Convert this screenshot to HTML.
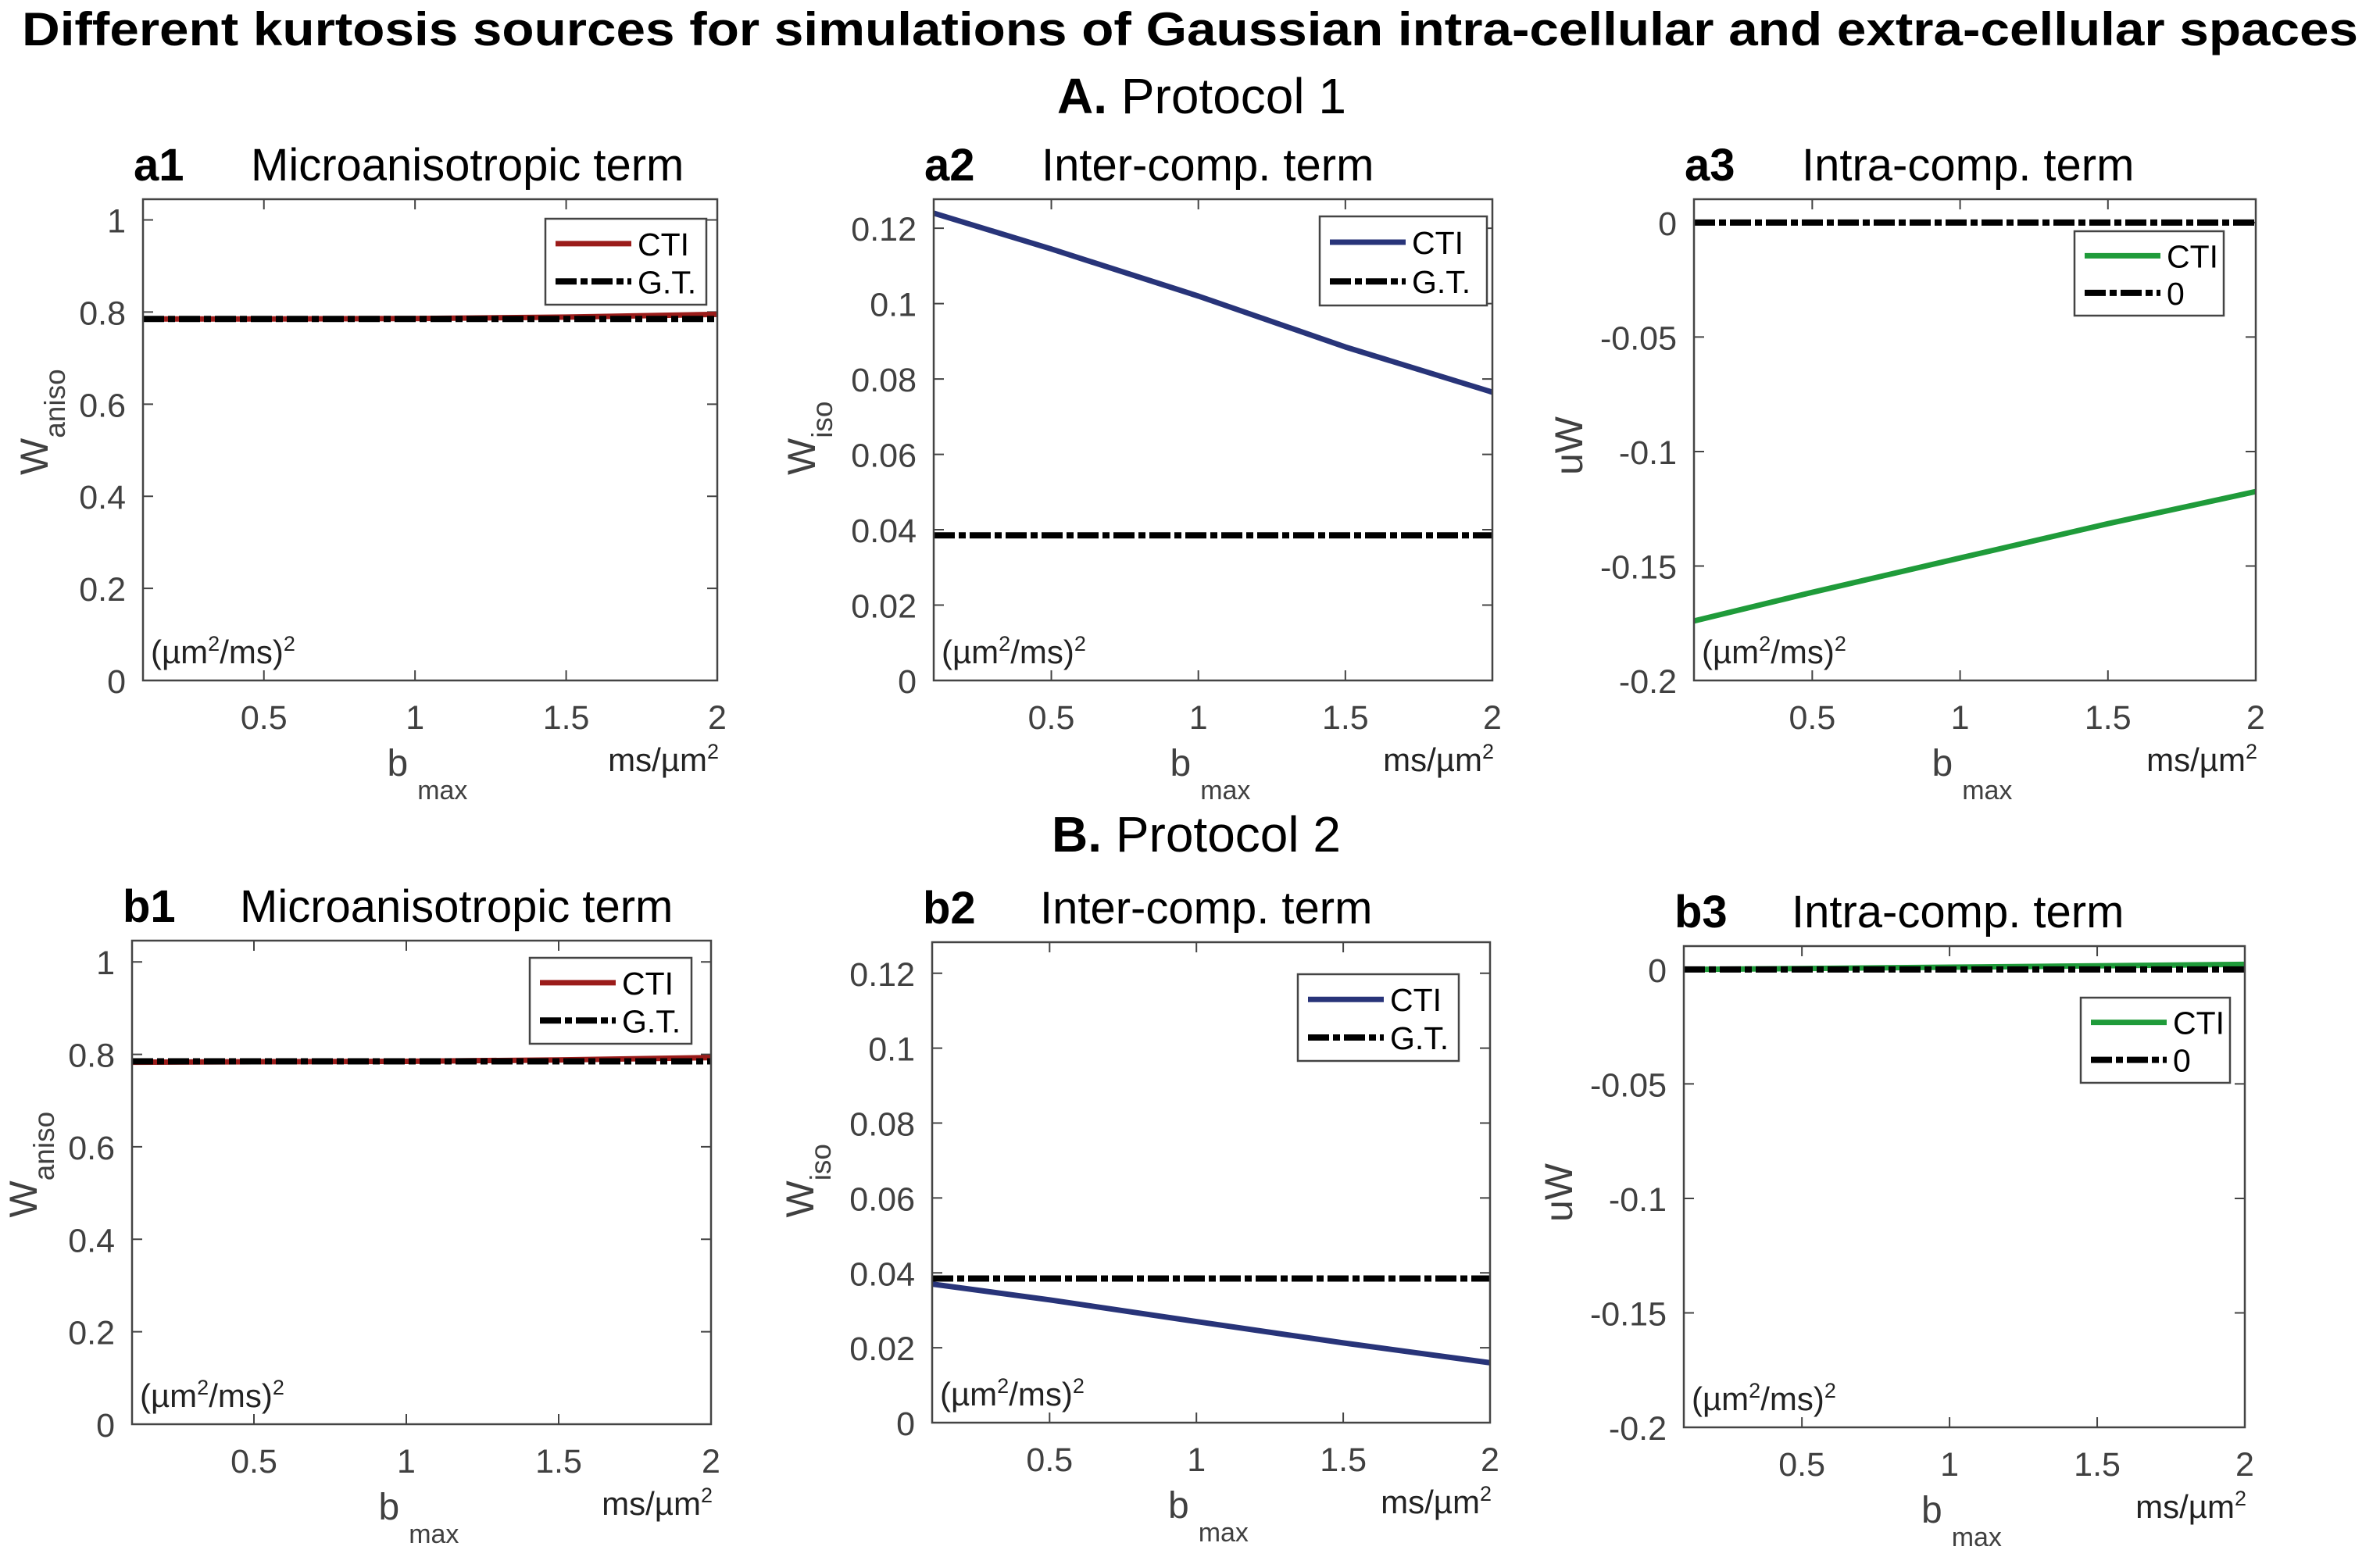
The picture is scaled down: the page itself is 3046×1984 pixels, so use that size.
<!DOCTYPE html>
<html><head><meta charset="utf-8">
<style>
html,body{margin:0;padding:0;background:#fff;}
svg{display:block;font-family:"Liberation Sans",Arial,sans-serif;}
</style></head>
<body>
<svg id="fig" width="3046" height="1984" viewBox="0 0 3046 1984" xmlns="http://www.w3.org/2000/svg">
<text x="1523" y="58" text-anchor="middle" font-size="60" font-weight="bold" fill="#000" textLength="2990" lengthAdjust="spacingAndGlyphs">Different kurtosis sources for simulations of Gaussian intra-cellular and extra-cellular spaces</text>
<text x="1538" y="145" text-anchor="middle" font-size="64" fill="#000"><tspan font-weight="bold">A.</tspan> Protocol 1</text>
<text x="1531" y="1090" text-anchor="middle" font-size="64" fill="#000"><tspan font-weight="bold">B.</tspan> Protocol 2</text>
</svg>
<script>
// ---- data ----
const bValues = [0.1, 0.5, 1.0, 1.5, 2.0];
const xTicks = [0.5, 1, 1.5, 2];
const xTickLabels = ["0.5", "1", "1.5", "2"];

const a1CTI = [0.785, 0.785, 0.786, 0.789, 0.795];
const a1GT = [0.785, 0.785, 0.785, 0.785, 0.785];
const a2CTI = [0.124, 0.1145, 0.102, 0.0885, 0.0765];
const a2GT = [0.0385, 0.0385, 0.0385, 0.0385, 0.0385];
const a3CTI = [-0.174, -0.1615, -0.1465, -0.1315, -0.1175];
const a3Zero = [0, 0, 0, 0, 0];
const b1CTI = [0.783, 0.784, 0.785, 0.788, 0.793];
const b1GT = [0.785, 0.785, 0.785, 0.785, 0.785];
const b2CTI = [0.037, 0.0328, 0.027, 0.0213, 0.016];
const b2GT = [0.0385, 0.0385, 0.0385, 0.0385, 0.0385];
const b3CTI = [0.0, 0.0004, 0.001, 0.0016, 0.0022];
const b3Zero = [0, 0, 0, 0, 0];

const yTicksW = [0, 0.2, 0.4, 0.6, 0.8, 1];
const yTickLabelsW = ["0", "0.2", "0.4", "0.6", "0.8", "1"];
const yTicksIso = [0, 0.02, 0.04, 0.06, 0.08, 0.1, 0.12];
const yTickLabelsIso = ["0", "0.02", "0.04", "0.06", "0.08", "0.1", "0.12"];
const yTicksU = [-0.2, -0.15, -0.1, -0.05, 0];
const yTickLabelsU = ["-0.2", "-0.15", "-0.1", "-0.05", "0"];

const NS = "http://www.w3.org/2000/svg";
const svg = document.getElementById("fig");
function mk(tag, attrs, parent) {
  const e = document.createElementNS(NS, tag);
  for (const k in attrs) e.setAttribute(k, attrs[k]);
  (parent || svg).appendChild(e);
  return e;
}
const RED = "#9b1c1a", NAVY = "#283479", GREEN = "#1f9b3a";
const DASH = "27 5 9 5";

const panels = [
  {id:"a1", title:"Microanisotropic term", L:183, R:918, T:255, B:871, ymin:0, ymax:1.045, yt:yTicksW, ytl:yTickLabelsW, ylab:"W", ysub:"aniso", ylx:-122, color:RED, cti:a1CTI, ref:a1GT, refName:"G.T.", leg:[698,280,904,390]},
  {id:"a2", title:"Inter-comp. term", L:1195, R:1910, T:255, B:871, ymin:0, ymax:0.1277, yt:yTicksIso, ytl:yTickLabelsIso, ylab:"W", ysub:"iso", ylx:-152, color:NAVY, cti:a2CTI, ref:a2GT, refName:"G.T.", leg:[1689,277,1903,391]},
  {id:"a3", title:"Intra-comp. term", L:2168, R:2887, T:255, B:871, ymin:-0.2, ymax:0.0102, yt:yTicksU, ytl:yTickLabelsU, ylab:"uW", ysub:"", ylx:-143, color:GREEN, cti:a3CTI, ref:a3Zero, refName:"0", leg:[2655,296,2846,404]},
  {id:"b1", title:"Microanisotropic term", L:169, R:910, T:1204, B:1823, ymin:0, ymax:1.046, yt:yTicksW, ytl:yTickLabelsW, ylab:"W", ysub:"aniso", ylx:-122, color:RED, cti:b1CTI, ref:b1GT, refName:"G.T.", leg:[678,1226,885,1336]},
  {id:"b2", title:"Inter-comp. term", L:1193, R:1907, T:1206, B:1821, ymin:0, ymax:0.1283, yt:yTicksIso, ytl:yTickLabelsIso, ylab:"W", ysub:"iso", ylx:-152, color:NAVY, cti:b2CTI, ref:b2GT, refName:"G.T.", leg:[1661,1247,1867,1358]},
  {id:"b3", title:"Intra-comp. term", L:2155, R:2873, T:1211, B:1827, ymin:-0.2, ymax:0.0102, yt:yTicksU, ytl:yTickLabelsU, ylab:"uW", ysub:"", ylx:-143, color:GREEN, cti:b3CTI, ref:b3Zero, refName:"0", leg:[2663,1277,2854,1386]}
];

panels.forEach(p => {
  const g = mk("g", {});
  
  
  const xs = v => p.L + (v - 0.1) / (2 - 0.1) * (p.R - p.L);
  const ys = v => p.B - (v - p.ymin) / (p.ymax - p.ymin) * (p.B - p.T);

  const t1 = mk("text", {x:p.L - 12, y:p.T - 24, "font-size":58, "font-weight":"bold", fill:"#000"}, g);
  t1.textContent = p.id;
  
  
  const t2 = mk("text", {x:p.L + 138, y:p.T - 24, "font-size":58, fill:"#000"}, g);
  t2.textContent = p.title;
  
  

  const cp = mk("clipPath", {id:"clip-" + p.id}, g);
  mk("rect", {x:p.L, y:p.T, width:p.R - p.L, height:p.B - p.T}, cp);

  xTicks.forEach((v, i) => {
    const x = xs(v);
    const tk = mk("path", {d:`M${x},${p.B}V${p.B-13}M${x},${p.T}V${p.T+13}`, stroke:"#444", "stroke-width":2, fill:"none"}, g);
    
    
    const tl = mk("text", {x:x, y:p.B + 62, "font-size":43, fill:"#404040", "text-anchor":"middle"}, g);
    tl.textContent = xTickLabels[i];
    
    
  });
  p.yt.forEach((v, i) => {
    const y = ys(v);
    const tk = mk("path", {d:`M${p.L},${y}H${p.L+13}M${p.R},${y}H${p.R-13}`, stroke:"#444", "stroke-width":2, fill:"none"}, g);
    
    
    const tl = mk("text", {x:p.L - 22, y:y + 16, "font-size":43, fill:"#404040", "text-anchor":"end"}, g);
    tl.textContent = p.ytl[i];
    
    
  });

  const pts = arr => arr.map((v, i) => `${xs(bValues[i]).toFixed(1)},${ys(v).toFixed(1)}`).join(" ");
  const ln = mk("polyline", {points:pts(p.cti), fill:"none", stroke:p.color, "stroke-width":7, "stroke-linejoin":"round", "clip-path":`url(#clip-${p.id})`}, g);
  
  
  const rl = mk("polyline", {points:pts(p.ref), fill:"none", stroke:"#000", "stroke-width":8, "stroke-dasharray":DASH, "clip-path":`url(#clip-${p.id})`}, g);
  
  

  const box = mk("rect", {x:p.L, y:p.T, width:p.R - p.L, height:p.B - p.T, fill:"none", stroke:"#444", "stroke-width":2.5}, g);
  
  

  const u = mk("text", {x:p.L + 10, y:p.B - 22, "font-size":42, fill:"#222"}, g);
  u.innerHTML = '(µm<tspan font-size="27" dy="-16">2</tspan><tspan dy="16">/ms)</tspan><tspan font-size="27" dy="-16">2</tspan>';
  
  
  const xu = mk("text", {x:p.R + 2, y:p.B + 116, "font-size":42, fill:"#222", "text-anchor":"end"}, g);
  xu.innerHTML = 'ms/µm<tspan font-size="27" dy="-16">2</tspan>';
  
  

  const cx = (p.L + p.R) / 2;
  const xl = mk("text", {x:cx - 55, y:p.B + 122, "font-size":48, fill:"#404040"}, g);
  xl.innerHTML = 'b<tspan font-size="34" dx="12" dy="30">max</tspan>';
  
  

  const ylx = p.L + p.ylx, yly = (p.T + p.B) / 2 + 45;
  const yl = mk("text", {x:ylx, y:yly, "font-size":50, fill:"#404040", transform:`rotate(-90 ${ylx} ${yly})`}, g);
  yl.innerHTML = p.ylab + (p.ysub ? `<tspan font-size="37" dy="22">${p.ysub}</tspan>` : "");
  
  

  const [lx0, ly0, lx1, ly1] = p.leg;
  const lg = mk("g", {}, g);
  
  
  mk("rect", {x:lx0, y:ly0, width:lx1 - lx0, height:ly1 - ly0, fill:"#fff", stroke:"#444", "stroke-width":2.5}, lg);
  const r1 = ly0 + (ly1 - ly0) * 0.29, r2 = ly0 + (ly1 - ly0) * 0.73;
  const e1 = mk("line", {x1:lx0 + 13, x2:lx0 + 110, y1:r1, y2:r1, stroke:p.color, "stroke-width":7}, lg);
  
  
  const e2 = mk("line", {x1:lx0 + 13, x2:lx0 + 110, y1:r2, y2:r2, stroke:"#000", "stroke-width":8, "stroke-dasharray":DASH}, lg);
  
  
  const lt1 = mk("text", {x:lx0 + 118, y:r1 + 15, "font-size":41, fill:"#000"}, lg);
  lt1.textContent = "CTI";
  
  
  const lt2 = mk("text", {x:lx0 + 118, y:r2 + 15, "font-size":41, fill:"#000"}, lg);
  lt2.textContent = p.refName;
  
  
});
</script>
</body></html>
